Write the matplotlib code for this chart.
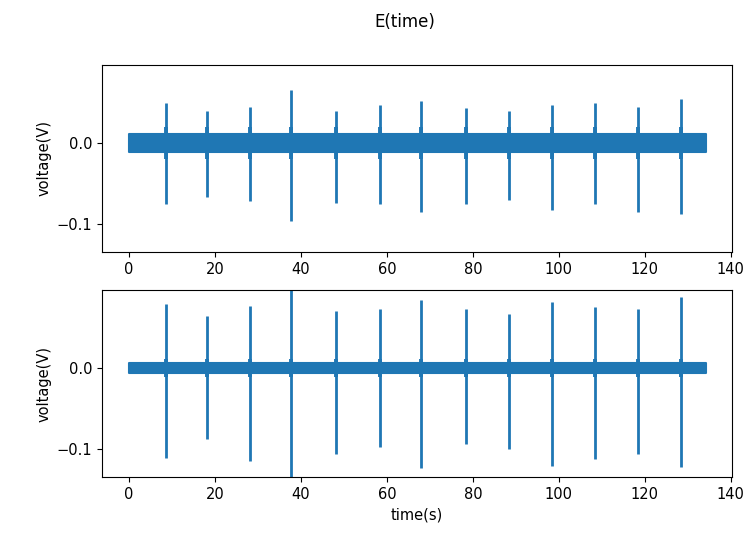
import numpy as np
import matplotlib
matplotlib.use("Agg")
import matplotlib.pyplot as plt

# beat times (s)
beat_t = [8.7, 18.2, 28.1, 37.7, 48.1, 58.3, 67.9, 78.5, 88.3, 98.5, 108.4, 118.4, 128.5]

# channel 1 spike peaks / troughs (V)
top_hi = [0.050, 0.040, 0.045, 0.066, 0.040, 0.047, 0.052, 0.044, 0.040, 0.047, 0.050, 0.045, 0.055]
top_lo = [-0.076, -0.067, -0.072, -0.097, -0.074, -0.075, -0.085, -0.076, -0.070, -0.083, -0.076, -0.086, -0.088]

# channel 2 spike peaks / troughs (V)
bot_hi = [0.079, 0.065, 0.077, 0.120, 0.071, 0.074, 0.085, 0.074, 0.067, 0.082, 0.076, 0.074, 0.088]
bot_lo = [-0.112, -0.088, -0.115, -0.160, -0.106, -0.098, -0.124, -0.094, -0.100, -0.121, -0.113, -0.107, -0.122]

# recording span and baseline noise half-width
t_span = [0.0, 134.2]
top_noise = 0.011
bot_noise = 0.006

color = "#1f77b4"

fig = plt.figure(figsize=(7.47, 5.36), dpi=100)
ax1 = fig.add_axes([0.1365, 0.5299, 0.8435, 0.3488])
ax2 = fig.add_axes([0.1365, 0.1100, 0.8435, 0.3490])

for ax, hi, lo, nz in [(ax1, top_hi, top_lo, top_noise), (ax2, bot_hi, bot_lo, bot_noise)]:
    ax.fill_between(t_span, [-nz, -nz], [nz, nz], color=color, lw=1.5)
    ax.vlines(beat_t, lo, hi, color=color, lw=2.0)
    # slight thickening of each beat near the baseline
    ax.vlines(beat_t, [-1.8 * nz] * len(beat_t), [1.8 * nz] * len(beat_t), color=color, lw=2.8)
    ax.set_xlim(-6.3, 140.3)
    ax.set_ylim(-0.135, 0.097)
    ax.set_xticks(np.arange(0, 141, 20))
    ax.set_yticks([-0.1, 0.0])
    ax.set_ylabel("voltage(V)", fontsize=10.5)
    ax.tick_params(labelsize=10.5)

ax2.set_xlabel("time(s)", fontsize=10.5)
fig.text(0.542, 0.959, "E(time)", ha="center", va="center", fontsize=12)

fig.savefig("out.png", dpi=100)
